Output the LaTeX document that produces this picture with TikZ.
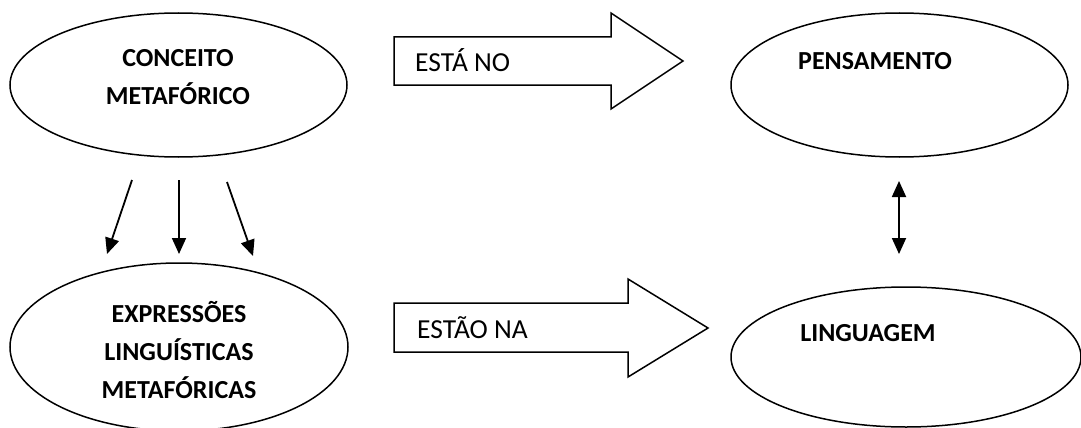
\documentclass[tikz,border=0pt]{standalone}
\usepackage{fontspec}
\setmainfont{Carlito}
\usetikzlibrary{shapes.geometric,arrows.meta}
\begin{document}
\begin{tikzpicture}[x=1pt,y=-1pt,
  ellline/.style={line width=1.5pt},
  btxt/.style={font=\fontsize{26}{38}\selectfont\bfseries,align=center,inner sep=0pt},
  rtxt/.style={font=\fontsize{27.5}{33}\selectfont,anchor=base west,inner sep=0pt},
  blk/.style={draw,line width=1.5pt,line join=miter},
  arr/.style={line width=1.8pt,-{Triangle[length=16pt,width=14pt]}},
  darr/.style={line width=1.8pt,{Triangle[length=16pt,width=14pt]}-{Triangle[length=16pt,width=14pt]}}]
\useasboundingbox (0,0) rectangle (1081,428);
% ellipses
\draw[ellline] (178.5,85) ellipse [x radius=168.5, y radius=72];
\node[inner sep=0pt,minimum size=0pt] (conc) at (178.5,85) {};
\draw[ellline] (899.5,85) ellipse [x radius=168.5, y radius=72];
\node[inner sep=0pt,minimum size=0pt] (pens) at (899.5,85) {};
\draw[ellline] (179,347) ellipse [x radius=169, y radius=84];
\node[inner sep=0pt,minimum size=0pt] (expr) at (179,347) {};
\draw[ellline] (906,357) ellipse [x radius=175, y radius=70];
\node[inner sep=0pt,minimum size=0pt] (ling) at (906,357) {};
% texts
\node[btxt] (t1) at (178,77) {CONCEITO\\METAFÓRICO};
\node[btxt] (t2) at (875,61) {PENSAMENTO};
\node[btxt] (t3) at (179,350) {EXPRESSÕES\\LINGUÍSTICAS\\METAFÓRICAS};
\node[btxt] (t4) at (868,333) {LINGUAGEM};
% block arrows
\draw[blk] (394,37) -- (611,37) -- (611,13) -- (683,61) -- (611,109) -- (611,85) -- (394,85) -- cycle;
\node[rtxt] (a1) at (415,71) {ESTÁ NO};
\draw[blk] (394,303) -- (628,303) -- (628,279) -- (708,328) -- (628,377) -- (628,352) -- (394,352) -- cycle;
\node[rtxt] (a2) at (417,338) {ESTÃO NA};
% down arrows
\coordinate (s1) at (132,180); \coordinate (e1) at (107,254);
\coordinate (s2) at (179,180); \coordinate (e2) at (179,254);
\coordinate (s3) at (227,182); \coordinate (e3) at (253,256);
\draw[arr] (s1) -- (e1);
\draw[arr] (s2) -- (e2);
\draw[arr] (s3) -- (e3);
% double arrow
\coordinate (d1) at (899,181); \coordinate (d2) at (899,254);
\draw[darr] (d1) -- (d2);
\end{tikzpicture}
\end{document}
